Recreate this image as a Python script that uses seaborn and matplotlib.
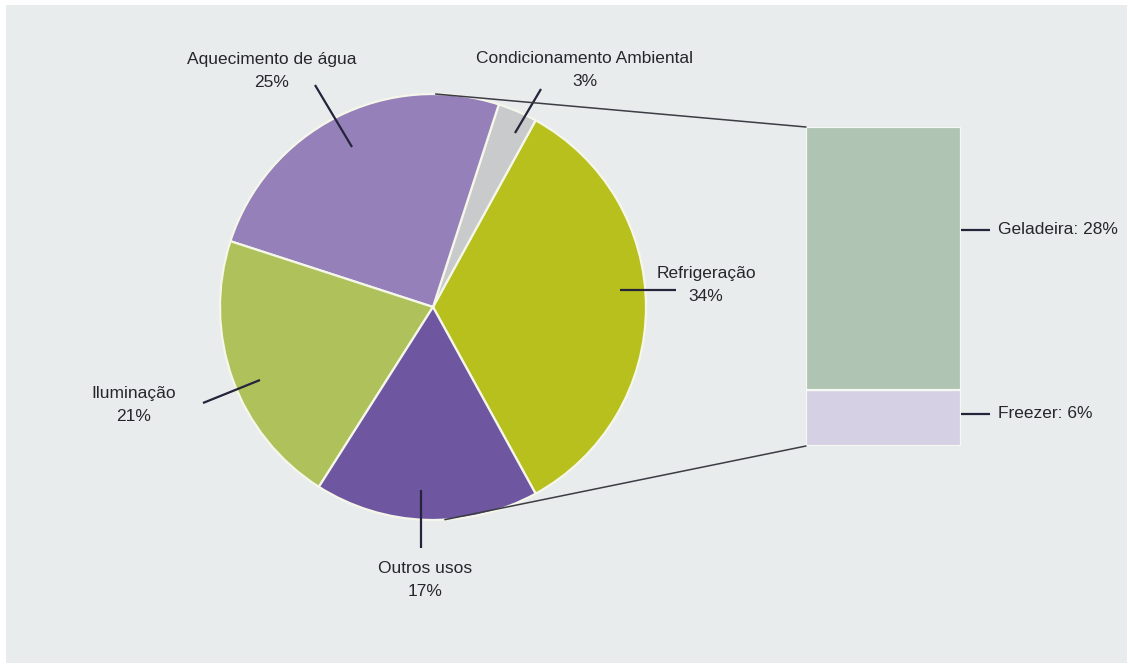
import matplotlib
matplotlib.use("Agg")
import matplotlib.pyplot as plt
from matplotlib.patches import ConnectionPatch, Rectangle
import numpy as np
import seaborn as sns

# ---- data -------------------------------------------------------------
categorias = ["Refrigeração", "Condicionamento Ambiental", "Aquecimento de água",
              "Iluminação", "Outros usos"]
percentuais = [34, 3, 25, 21, 17]
cores_pizza = ["#b8c01e", "#c9cacb", "#9580b9", "#afc15b", "#6e56a1"]

subcategorias = ["Geladeira", "Freezer"]
sub_percentuais = [28, 6]
cores_barra = ["#abc8b0", "#d4cde6"]

# ---- figure setup ------------------------------------------------------
W, H = 1127, 663
BG = "#e9ecec"
sns.set_theme(style="white")
plt.rcParams["font.family"] = ["Liberation Sans", "DejaVu Sans"]
TXT = "#26262b"
FS = 12.5

fig = plt.figure(figsize=(W / 100, H / 100), dpi=100, facecolor=BG)
ax = fig.add_axes([0, 0, 1, 1])
ax.set_xlim(0, W)
ax.set_ylim(0, H)
ax.axis("off")


def px(x, y):
    """Convert pixel position (origin top-left) into axes data coords."""
    return x, H - y


# thin white margin along the top and left edges
ax.add_patch(Rectangle((0, H - 5), W, 5, facecolor="white", edgecolor="none",
                       zorder=0))
ax.add_patch(Rectangle((0, 0), 6, H, facecolor="white", edgecolor="none",
                       zorder=0))

# ---- pie -----------------------------------------------------------------
CX, CY, R = 433, 307, 213
start = -percentuais[0] / 100 * 360 / 2
wedges, _ = ax.pie(percentuais, colors=cores_pizza, startangle=start,
                   counterclock=True, center=px(CX, CY), radius=R, frame=True,
                   wedgeprops=dict(edgecolor="#f5f7ea", linewidth=1.6))
ax.set_xlim(0, W)
ax.set_ylim(0, H)
ax.set_aspect("auto")
ax.axis("off")

# ---- stacked bar for the Refrigeração breakdown ---------------------------
BX0, BX1, BY0, BY1 = 806, 961, 127, 446
bax = fig.add_axes([BX0 / W, (H - BY1) / H, (BX1 - BX0) / W, (BY1 - BY0) / H])
base = 0
for nome, val, cor in zip(subcategorias[::-1], sub_percentuais[::-1], cores_barra[::-1]):
    sns.barplot(x=["Refrigeração"], y=[val], color=cor, width=1.0, bottom=base,
                edgecolor="#f6f8f4", linewidth=1.6, ax=bax, zorder=2)
    base += val
bax.set_xlim(-0.5, 0.5)
bax.set_ylim(0, sum(sub_percentuais))
bax.axis("off")
bax.patch.set_alpha(0)

# connector lines between pie and bar
for ang, ybar in [(89.3, sum(sub_percentuais)), (-86.8, 0)]:
    a = np.deg2rad(ang)
    p = (px(CX, CY)[0] + R * np.cos(a), px(CX, CY)[1] + R * np.sin(a))
    con = ConnectionPatch(xyA=p, coordsA=ax.transData, xyB=(-0.5, ybar),
                          coordsB=bax.transData, color="#3c3c44", lw=1.1, zorder=5)
    fig.add_artist(con)

# ---- labels with leader lines ---------------------------------------------
rotulos = {
    "Aquecimento de água": dict(txt=(272, 71), line=[(315, 85), (352, 147)]),
    "Condicionamento Ambiental": dict(txt=(585, 70), line=[(541, 89), (515, 133)]),
    "Refrigeração": dict(txt=(706, 285), line=[(620, 290), (676, 290)]),
    "Iluminação": dict(txt=(134, 405), line=[(203, 403), (260, 380)]),
    "Outros usos": dict(txt=(425, 580), line=[(421, 490), (421, 548)]),
}
for nome, val in zip(categorias, percentuais):
    cfg = rotulos[nome]
    (x0, y0), (x1, y1) = cfg["line"]
    ax.plot([px(x0, y0)[0], px(x1, y1)[0]], [px(x0, y0)[1], px(x1, y1)[1]],
            color="#24243a", lw=1.6, solid_capstyle="butt", zorder=6)
    ax.text(*px(*cfg["txt"]), f"{nome}\n{val}%", ha="center", va="center",
            multialignment="center", fontsize=FS, color=TXT, linespacing=1.65,
            zorder=7)

sub_rotulos = {"Geladeira": 230, "Freezer": 414}
for nome, val in zip(subcategorias, sub_percentuais):
    y = sub_rotulos[nome]
    ax.plot([px(961, y)[0], px(990, y)[0]], [px(961, y)[1]] * 2,
            color="#24243a", lw=1.6, solid_capstyle="butt", zorder=6)
    ax.text(*px(998, y), f"{nome}: {val}%", ha="left", va="center",
            fontsize=FS, color=TXT, zorder=7)

fig.savefig("out.png", dpi=100, facecolor=fig.get_facecolor())
